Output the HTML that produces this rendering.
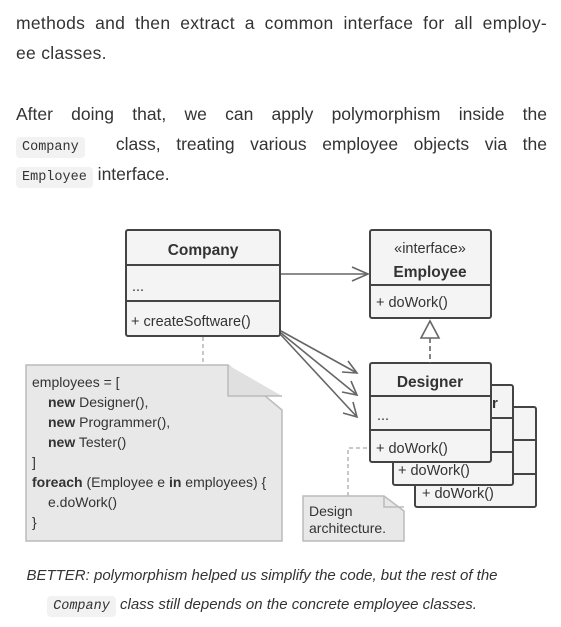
<!DOCTYPE html>
<html><head><meta charset="utf-8"><style>
body{margin:0;width:561px;height:627px;background:#fff;font-family:"Liberation Sans",sans-serif;color:#333;position:relative;overflow:hidden}
.l{position:absolute;left:16px;width:531px;font-size:17.5px;line-height:30px;height:30px;white-space:nowrap}
.j{text-align:justify;text-align-last:justify;white-space:normal}
code{font-family:"Liberation Mono",monospace;font-size:13.5px;background:#f2f2f2;border-radius:4px;padding:3px 6px;color:#333}
.cap{position:absolute;left:0;width:524px;text-align:center;font-style:italic;font-size:15px;line-height:29px;top:561px}
</style></head><body>
<div class="l j" style="top:8px;letter-spacing:0.3px">methods and then extract a common interface for all employ-</div>
<div class="l" style="top:38px;letter-spacing:0.3px">ee classes.</div>
<div class="l j" style="top:99px">After doing that, we can apply polymorphism inside the</div>
<div class="l j" style="top:129px"><code>Company</code> &nbsp;class, treating various employee objects via the</div>
<div class="l" style="top:159px"><code>Employee</code> interface.</div>
<svg style="position:absolute;left:0;top:0" width="561" height="627" font-family="Liberation Sans, sans-serif">
<g stroke="#aaa" stroke-dasharray="4,3" fill="none" stroke-width="1.3">
<line x1="203" y1="337" x2="203" y2="365"/>
<polyline points="348,496 348,448 368,448"/>
</g>
<path d="M26,365 H228 L282,410 V541 H26 Z" fill="#e8e8e8" stroke="#bbb" stroke-width="1.5"/>
<path d="M228,365 V396 H282" fill="#e0e0e0" stroke="#bbb" stroke-width="1.5"/>
<path d="M303,496 H384 L404,511 V541 H303 Z" fill="#e8e8e8" stroke="#bbb" stroke-width="1.5"/>
<path d="M384,496 V507 H404" fill="none" stroke="#bbb" stroke-width="1.5"/>
<g font-size="14" fill="#333">
<text x="32" y="387">employees = [</text>
<text x="48" y="407"><tspan font-weight="bold">new</tspan> Designer(),</text>
<text x="48" y="427"><tspan font-weight="bold">new</tspan> Programmer(),</text>
<text x="48" y="447"><tspan font-weight="bold">new</tspan> Tester()</text>
<text x="32" y="467">]</text>
<text x="32" y="487"><tspan font-weight="bold">foreach</tspan> (Employee e <tspan font-weight="bold">in</tspan> employees) {</text>
<text x="48" y="507">e.doWork()</text>
<text x="32" y="527">}</text>
<text x="309" y="516">Design</text>
<text x="309" y="533">architecture.</text>
</g>
<g stroke="#444" stroke-width="2" fill="#f4f4f4">
<rect x="415" y="407" width="121" height="100" rx="2"/>
<line x1="415" y1="440" x2="536" y2="440"/><line x1="415" y1="474" x2="536" y2="474"/>
<rect x="393" y="385" width="120" height="100" rx="2"/>
<line x1="393" y1="418" x2="513" y2="418"/><line x1="393" y1="452" x2="513" y2="452"/>
<rect x="370" y="363" width="121" height="99" rx="2"/>
<line x1="370" y1="396" x2="491" y2="396"/><line x1="370" y1="430" x2="491" y2="430"/>
<rect x="126" y="230" width="154" height="106" rx="2"/>
<line x1="126" y1="265" x2="280" y2="265"/><line x1="126" y1="301" x2="280" y2="301"/>
<rect x="370" y="230" width="121" height="88" rx="2"/>
<line x1="370" y1="285" x2="491" y2="285"/>
</g>
<g font-size="14.5" fill="#333">
<text x="422" y="498">+ doWork()</text>
<text x="398" y="475">+ doWork()</text>
<text x="492" y="408" font-weight="bold" font-size="15">r</text>
<text x="430" y="387" text-anchor="middle" font-weight="bold" font-size="15.5">Designer</text>
<text x="377" y="420">...</text>
<text x="376" y="453">+ doWork()</text>
<text x="203" y="255" text-anchor="middle" font-weight="bold" font-size="15.5">Company</text>
<text x="132" y="291">...</text>
<text x="131" y="326">+ createSoftware()</text>
<text x="430" y="253" text-anchor="middle">«interface»</text>
<text x="430" y="277" text-anchor="middle" font-weight="bold" font-size="15.5">Employee</text>
<text x="376" y="307">+ doWork()</text>
</g>
<g stroke="#666" stroke-width="1.6" fill="none">
<line x1="281" y1="274" x2="368" y2="274"/><polyline points="352,267 368,274 352,281"/>
<line x1="281" y1="331" x2="357" y2="373"/><polyline points="342,372 357,373 348,361"/>
<line x1="281" y1="333" x2="357" y2="395"/><polyline points="342,392 357,395 351,381"/>
<line x1="281" y1="335" x2="357" y2="417"/><polyline points="343,413 357,417 353,402"/>
<line x1="430" y1="338" x2="430" y2="363" stroke-dasharray="5,3"/>
<polygon points="430,321 421,338 439,338" fill="#fff"/>
</g>
</svg>
<div class="cap">BETTER: polymorphism helped us simplify the code, but the rest of the<br><code>Company</code> class still depends on the concrete employee classes.</div>
</body></html>
